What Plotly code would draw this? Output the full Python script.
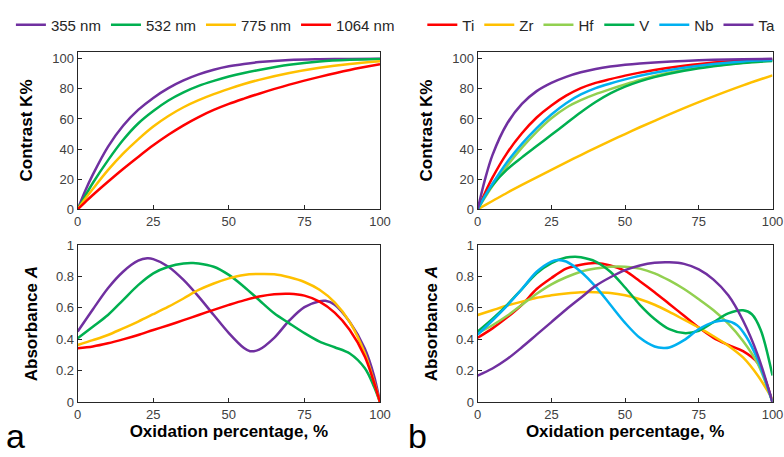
import plotly.graph_objects as go

# ---------------- data ----------------
X_TOP = [0, 2.5, 5, 10, 15, 20, 25, 30, 35, 40, 45, 50, 55, 60, 70, 80, 90, 100]
X_BOT = [0, 5, 10, 15, 20, 25, 30, 35, 40, 45, 50, 55, 60, 65, 70, 75, 80, 85, 90, 95, 100]

wl_names = ["355 nm", "532 nm", "775 nm", "1064 nm"]
wl_colors = ["#7030A0", "#00B050", "#FFC000", "#FF0000"]
k_355 = [0, 12.3, 23, 41.5, 55.5, 66, 74, 80.5, 85.6, 89.6, 92.7, 95, 96.6, 97.8, 99.2, 99.7, 99.9, 100]
k_532 = [0, 9, 17.5, 32.5, 46, 57, 65.3, 72.3, 77.7, 82, 85.3, 88.2, 90.6, 92.6, 96, 98.2, 99.3, 99.8]
k_775 = [0, 7, 13.5, 26, 37, 46.5, 55, 62, 67.8, 72.5, 76.5, 80, 83.2, 86, 90.5, 94, 96.6, 98.4]
k_1064 = [0, 4.8, 9.5, 18.3, 26.8, 34.8, 42.5, 49.5, 55.8, 61.3, 66, 70, 73.5, 76.8, 82.8, 88, 92.6, 96.3]

x_a355 = [0, 5, 10, 15, 20, 23, 25, 30, 35, 40, 45, 50, 55, 57, 60, 65, 70, 75, 80, 82, 85, 90, 95, 98, 100]
a_355 = [0.45, 0.59, 0.725, 0.83, 0.90, 0.915, 0.91, 0.862, 0.778, 0.672, 0.555, 0.44, 0.345, 0.325,
         0.335, 0.41, 0.52, 0.605, 0.643, 0.645, 0.62, 0.51, 0.34, 0.17, 0.0]
x_a532 = [0, 5, 10, 15, 20, 25, 30, 35, 38, 40, 45, 50, 55, 60, 65, 70, 75, 80, 85, 90, 95, 98, 100]
a_532 = [0.407, 0.48, 0.555, 0.65, 0.745, 0.82, 0.862, 0.883, 0.885, 0.883, 0.862, 0.81, 0.735, 0.65,
         0.566, 0.502, 0.44, 0.386, 0.35, 0.31, 0.216, 0.1, 0.0]
a_775 = [0.364, 0.395, 0.428, 0.47, 0.513, 0.56, 0.608, 0.66, 0.714, 0.755, 0.788, 0.81, 0.816, 0.814,
         0.795, 0.765, 0.715, 0.635, 0.51, 0.31, 0.0]
a_1064 = [0.343, 0.355, 0.375, 0.40, 0.428, 0.46, 0.49, 0.522, 0.555, 0.588, 0.619, 0.648, 0.672, 0.687,
          0.69, 0.678, 0.64, 0.57, 0.46, 0.29, 0.0]

met_names = ["Ti", "Zr", "Hf", "V", "Nb", "Ta"]
met_colors = ["#FF0000", "#FFC000", "#92D050", "#00B050", "#00B0F0", "#7030A0"]
k_ti = [0, 11, 21, 37.5, 50.5, 61, 69, 75.5, 80.5, 84, 86.5, 88.8, 90.8, 92.5, 95.3, 97.5, 98.9, 99.6]
k_zr = [0, 2.8, 5.5, 11, 16.2, 21.2, 26.2, 31.2, 36, 40.8, 45.5, 50, 54.5, 58.8, 67.2, 75, 82.3, 89]
k_hf = [0, 8, 15.5, 29, 41, 51.5, 60.5, 67.5, 72.5, 76.5, 79.8, 83, 86, 88.6, 92.5, 95.3, 97.4, 98.8]
k_v = [0, 9, 16, 26.5, 34.5, 42, 49.5, 57, 64.5, 71.3, 77, 81.5, 85, 87.8, 92, 95, 97.2, 98.6]
k_nb = [0, 9, 17, 31.5, 43.5, 54, 63, 70.5, 76.3, 80.5, 83.6, 86.3, 88.7, 90.7, 94, 96.5, 98.2, 99.2]
k_ta = [0, 20, 36, 57, 70, 78.5, 84, 88, 91, 93.2, 94.8, 96, 96.9, 97.6, 98.6, 99.3, 99.7, 100]

a_ti = [0.41, 0.47, 0.54, 0.62, 0.72, 0.79, 0.85, 0.875, 0.885, 0.87, 0.835, 0.77, 0.70, 0.625,
        0.55, 0.475, 0.41, 0.365, 0.325, 0.25, 0.0]
a_zr = [0.555, 0.585, 0.615, 0.64, 0.665, 0.68, 0.692, 0.70, 0.70, 0.695, 0.68, 0.655, 0.62, 0.575,
        0.525, 0.475, 0.42, 0.36, 0.285, 0.17, 0.02]
a_hf = [0.44, 0.49, 0.55, 0.62, 0.69, 0.75, 0.795, 0.83, 0.85, 0.862, 0.862, 0.85, 0.82, 0.775,
        0.72, 0.655, 0.585, 0.50, 0.39, 0.245, 0.0]
x_av = [0, 5, 10, 15, 20, 25, 30, 33, 35, 40, 45, 50, 55, 60, 65, 70, 75, 80, 85, 90, 93, 96, 100]
a_v = [0.45, 0.53, 0.62, 0.72, 0.82, 0.885, 0.92, 0.925, 0.922, 0.895, 0.83, 0.73, 0.62, 0.53,
       0.465, 0.44, 0.455, 0.51, 0.565, 0.585, 0.56, 0.46, 0.17]
x_anb = [0, 5, 10, 15, 20, 25, 27, 30, 35, 40, 45, 50, 55, 60, 63, 65, 70, 75, 80, 84, 88, 91, 95, 100]
a_nb = [0.43, 0.52, 0.615, 0.72, 0.83, 0.895, 0.905, 0.895, 0.83, 0.735, 0.62, 0.505, 0.41, 0.355,
        0.345, 0.348, 0.395, 0.465, 0.51, 0.52, 0.49, 0.42, 0.27, 0.0]
a_ta = [0.17, 0.215, 0.275, 0.35, 0.43, 0.51, 0.59, 0.665, 0.74, 0.795, 0.84, 0.87, 0.887, 0.89,
        0.88, 0.845, 0.78, 0.68, 0.52, 0.30, 0.0]

# ---------------- figure ----------------
FONT = "Liberation Sans, Arial, sans-serif"
fig = go.Figure()

def add(x, y, name, color, xa, ya, legend=None):
    fig.add_trace(go.Scatter(
        x=x, y=y, name=name, mode="lines",
        line=dict(color=color, width=2.5, shape="spline", smoothing=0.9),
        xaxis=xa, yaxis=ya, showlegend=legend is not None,
        legend=legend if legend else "legend", hoverinfo="skip"))

k_wl = [k_355, k_532, k_775, k_1064]
for n, c, k in zip(wl_names, wl_colors, k_wl):
    add(X_TOP, k, n, c, "x", "y", "legend")
a_wl = [(x_a355, a_355), (x_a532, a_532), (X_BOT, a_775), (X_BOT, a_1064)]
for n, c, (xx, a) in zip(wl_names, wl_colors, a_wl):
    add(xx, a, n, c, "x3", "y3")

k_met = [k_ti, k_zr, k_hf, k_v, k_nb, k_ta]
for n, c, k in zip(met_names, met_colors, k_met):
    add(X_TOP, k, n, c, "x2", "y2", "legend2")
a_met = [(X_BOT, a_ti), (X_BOT, a_zr), (X_BOT, a_hf), (x_av, a_v), (x_anb, a_nb), (X_BOT, a_ta)]
for n, c, (xx, a) in zip(met_names, met_colors, a_met):
    add(xx, a, n, c, "x4", "y4")

W, H = 784, 457
xl = [77.7 / W, 380 / W]
xr = [477.7 / W, 772.5 / W]
yt = [1 - 209.3 / H, 1 - 51.7 / H]
yb = [1 - 402.3 / H, 1 - 245 / H]

axis_common = dict(showgrid=False, zeroline=False, showline=True, mirror=True,
                   linecolor="#262626", linewidth=1.2, ticks="inside", ticklen=4,
                   tickcolor="#262626", tickfont=dict(family=FONT, size=13, color="#404040"))
xt = dict(range=[0, 100], tickvals=[0, 25, 50, 75, 100], **axis_common)
xtitle = dict(text="Oxidation percentage, %", font=dict(family=FONT, size=17, color="#000", weight="bold"),
              standoff=4)
ytop = dict(range=[0, 104.7], tickvals=[0, 20, 40, 60, 80, 100], **axis_common,
            title=dict(text="Contrast K%", font=dict(family=FONT, size=17, color="#000", weight="bold"),
                       standoff=15))
ybot = dict(range=[0, 1], tickvals=[0, 0.2, 0.4, 0.6, 0.8, 1], **axis_common,
            title=dict(text="Absorbance <i>A</i>", font=dict(family=FONT, size=17, color="#000", weight="bold"),
                       standoff=13))

fig.update_layout(
    width=W, height=H, autosize=False,
    margin=dict(l=0, r=0, t=0, b=0, autoexpand=False),
    paper_bgcolor="white", plot_bgcolor="white",
    font=dict(family=FONT),
    xaxis=dict(domain=xl, anchor="y", **xt),
    yaxis=dict(domain=yt, anchor="x", **ytop),
    xaxis2=dict(domain=xr, anchor="y2", **xt),
    yaxis2=dict(domain=yt, anchor="x2", **ytop),
    xaxis3=dict(domain=xl, anchor="y3", title=xtitle, **xt),
    yaxis3=dict(domain=yb, anchor="x3", **ybot),
    xaxis4=dict(domain=xr, anchor="y4", title=xtitle, **xt),
    yaxis4=dict(domain=yb, anchor="x4", **ybot),
    legend=dict(orientation="h", x=0.262, xanchor="center", y=1 - 25 / H, yanchor="middle",
                font=dict(family=FONT, size=15, color="#262626"), bgcolor="rgba(0,0,0,0)",
                itemwidth=30, tracegroupgap=0),
    legend2=dict(orientation="h", x=0.767, xanchor="center", y=1 - 25 / H, yanchor="middle",
                 font=dict(family=FONT, size=15, color="#262626"), bgcolor="rgba(0,0,0,0)",
                 itemwidth=30, tracegroupgap=0),
    annotations=[
        dict(text="a", x=4 / W, y=0, xref="paper", yref="paper", xanchor="left",
             yanchor="bottom", showarrow=False, font=dict(family=FONT, size=34, color="#000")),
        dict(text="b", x=406 / W, y=0, xref="paper", yref="paper", xanchor="left",
             yanchor="bottom", showarrow=False, font=dict(family=FONT, size=34, color="#000")),
    ],
)

fig.write_html("out.html")
